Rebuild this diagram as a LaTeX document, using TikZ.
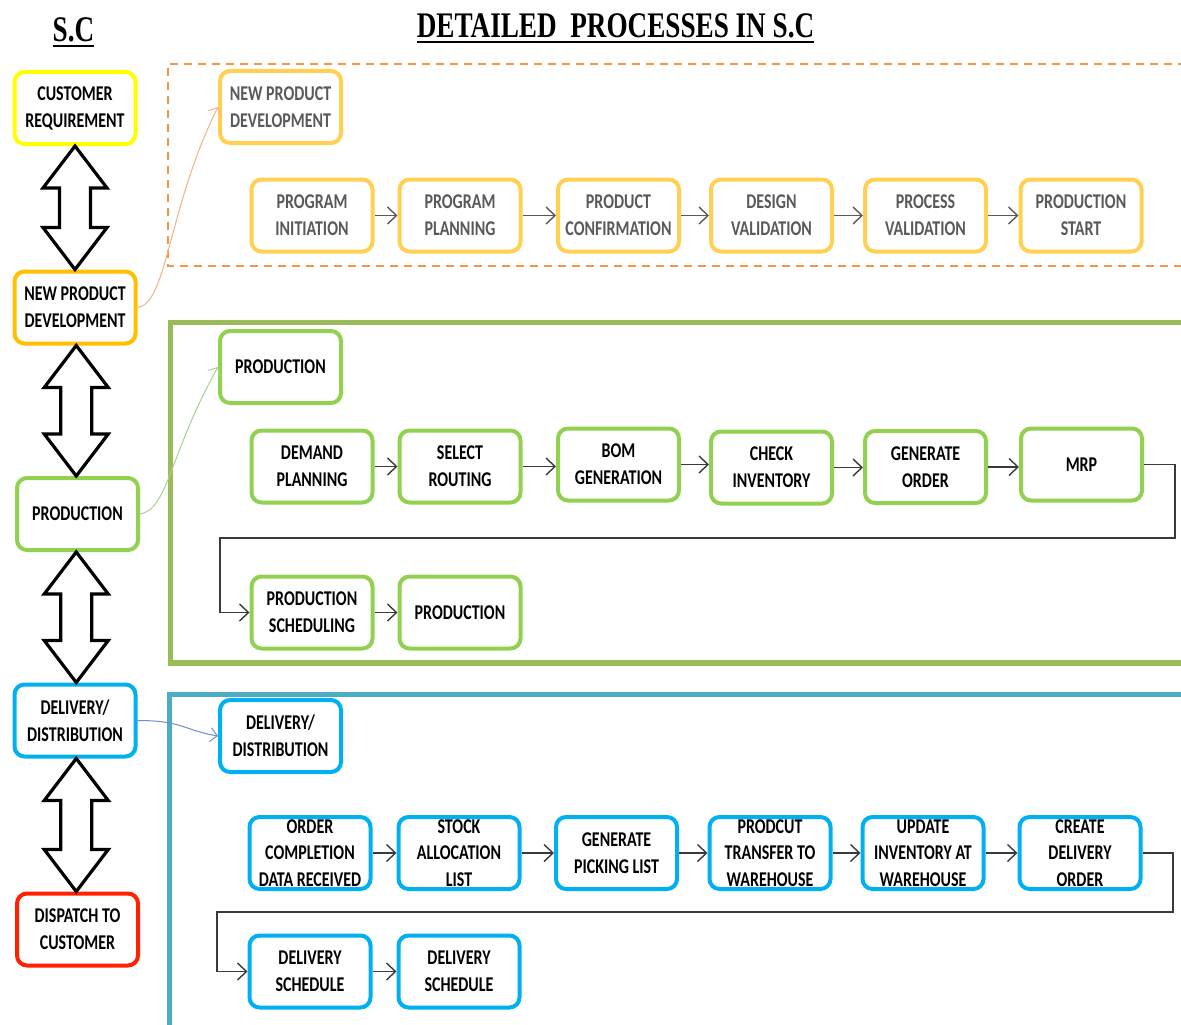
\documentclass[tikz,border=0pt]{standalone}
\usepackage{fontspec}
\newfontfamily\bxf{Carlito}[FakeStretch=0.76]
\newfontfamily\ttlf{Liberation Serif}[FakeStretch=0.755]
\usetikzlibrary{arrows.meta,calc}
\definecolor{cyel}{HTML}{FFFF00}
\definecolor{corg}{HTML}{FFC000}
\definecolor{cnpd}{HTML}{FFD052}
\definecolor{cgrn}{HTML}{92D050}
\definecolor{cblu}{HTML}{00B0F0}
\definecolor{cred}{HTML}{FF2200}
\definecolor{fgrn}{HTML}{9BBB59}
\definecolor{fblu}{HTML}{4BACC6}
\definecolor{fdash}{HTML}{F79646}
\definecolor{tgrey}{HTML}{595959}
\definecolor{agrey}{HTML}{595959}
\definecolor{adark}{HTML}{3A3A3A}
\definecolor{corgc}{HTML}{F4B183}
\definecolor{cgrnc}{HTML}{A9D18E}
\definecolor{cbluc}{HTML}{6B8FCB}
\newcommand\dblarr[2]{%
 \draw[dbl] let \p1=(#1.south), \p2=(#2.north), \n1={0.5*\x1+0.5*\x2} in
 (\n1,\y1) -- (\n1+32pt,\y1-42pt) -- (\n1+15.5pt,\y1-42pt) -- (\n1+15.5pt,\y2+42pt)
 -- (\n1+32pt,\y2+42pt) -- (\n1,\y2) -- (\n1-32pt,\y2+42pt) -- (\n1-15.5pt,\y2+42pt)
 -- (\n1-15.5pt,\y1-42pt) -- (\n1-32pt,\y1-42pt) -- cycle;}
\begin{document}
\begin{tikzpicture}[x=1pt,y=-1pt,
  box/.style={draw, rounded corners=10pt, line width=4pt, fill=white,
    minimum width=121pt, minimum height=72pt, inner sep=0pt, align=center,
    font=\bxf\bfseries\fontsize{21}{27}\selectfont},
  lbl/.style={align=center, inner sep=0pt, font=\bxf\bfseries\fontsize{21}{26.5}\selectfont},
  tbox/.style={box, draw=cnpd, text=tgrey},
  gbox/.style={box, draw=cgrn},
  bbox/.style={box, draw=cblu},
  flow/.style={draw=agrey, line width=1.4pt, -{Straight Barb[length=9pt,width=17pt,line width=1.4pt]}},
  flowd/.style={draw=adark, line width=1.4pt, -{Straight Barb[length=9pt,width=17pt,line width=1.4pt]}},
  wrap/.style={draw=adark, line width=1.4pt, -{Straight Barb[length=9pt,width=17pt,line width=1.4pt]}},
  dbl/.style={draw=black, line width=3.2pt, fill=white, line join=miter},
  curv/.style={line width=1pt, -{Straight Barb[length=7pt,width=14pt,line width=1pt]}},
  ttl/.style={inner sep=0pt, font=\ttlf\bfseries\fontsize{36}{40}\selectfont}
]
\useasboundingbox (0,0) rectangle (1181,1025);
\clip (0,0) rectangle (1181,1025);

% titles
\node[ttl, anchor=base] (sc) at (73.5,42) {S.C};
\draw[line width=2.6pt] ([yshift=-4pt]sc.base west) -- ([yshift=-4pt]sc.base east);
\node[ttl, anchor=base] (title) at (615.5,38) {DETAILED\ \ PROCESSES IN S.C};
\draw[line width=2.6pt] ([yshift=-4pt]title.base west) -- ([yshift=-4pt]title.base east);

% frames
\draw[fdash, line width=2pt, dash pattern=on 8pt off 6pt] (1200,64) -- (168,64) -- (168,266) -- (1200,266);
\draw[fgrn, line width=5.5pt] (1200,322.5) -- (170.5,322.5) -- (170.5,663) -- (1200,663);
\draw[fblu, line width=5.5pt] (1200,694.5) -- (169.5,694.5) -- (169.5,1040);

% left column
\node[box, draw=cyel] (cr) at (75,108) {CUSTOMER\\REQUIREMENT};
\node[box, draw=corg] (npdL) at (75,307.5) {NEW PRODUCT\\DEVELOPMENT};
\node[box, draw=cgrn] (prodL) at (77.5,514) {PRODUCTION};
\node[box, draw=cblu] (delL) at (75,720.5) {DELIVERY/\\DISTRIBUTION};
\node[box, draw=cred] (disp) at (77.5,929.5) {DISPATCH TO\\CUSTOMER};

\dblarr{cr}{npdL}
\dblarr{npdL}{prodL}
\dblarr{prodL}{delL}
\dblarr{delL}{disp}

% top region
\node[tbox] (npdT) at (280.5,107) {NEW PRODUCT\\DEVELOPMENT};
\node[tbox] (pi) at (312,215.5) {PROGRAM\\INITIATION};
\node[tbox] (pp) at (460,215.5) {PROGRAM\\PLANNING};
\node[tbox] (pc) at (618.5,215.5) {PRODUCT\\CONFIRMATION};
\node[tbox] (dv) at (771.5,215.5) {DESIGN\\VALIDATION};
\node[tbox] (pv) at (925.5,215.5) {PROCESS\\VALIDATION};
\node[tbox] (ps) at (1081,215.5) {PRODUCTION\\START};
\draw[flow] (pi) -- (pp);
\draw[flow] (pp) -- (pc);
\draw[flow] (pc) -- (dv);
\draw[flow] (dv) -- (pv);
\draw[flow] (pv) -- (ps);
\draw[curv, corgc] (npdL.east) .. controls +(30,-4) and +(-50,100) .. (npdT.west);

% production region
\node[gbox] (prodT) at (280.5,367) {PRODUCTION};
\node[gbox] (dp) at (312,466.5) {DEMAND\\PLANNING};
\node[gbox] (sr) at (460,466.5) {SELECT\\ROUTING};
\node[gbox] (bom) at (618.5,464.5) {BOM\\GENERATION};
\node[gbox] (ci) at (771.5,467.5) {CHECK\\INVENTORY};
\node[gbox] (go) at (925.5,467) {GENERATE\\ORDER};
\node[gbox] (mrp) at (1081.5,464.5) {MRP};
\node[gbox] (psch) at (312,612.5) {PRODUCTION\\SCHEDULING};
\node[gbox] (prod2) at (460,612.5) {PRODUCTION};
\draw[flowd] (dp) -- (sr);
\draw[flowd] (sr.east) -- (bom.west |- sr.east);
\draw[flowd] (bom.east) -- (ci.west |- bom.east);
\draw[flowd] (ci.east) -- (go.west |- ci.east);
\draw[flowd] (go.east) -- (mrp.west |- go.east);
\coordinate (gR) at (1175,538);
\coordinate (gL) at (220,538);
\draw[wrap] (mrp.east) -| (gR) -- (gL) |- (psch.west);
\draw[flowd] (psch) -- (prod2);
\draw[curv, cgrnc] (prodL.east) .. controls +(28,-4) and +(-48,85) .. (prodT.west);

% delivery region
\node[bbox] (delT) at (280.5,736) {DELIVERY/\\DISTRIBUTION};
\node[bbox, label={[lbl]center:ORDER\\COMPLETION\\DATA RECEIVED}] (oc) at (310,853) {};
\node[bbox, label={[lbl]center:STOCK\\ALLOCATION\\LIST}] (sa) at (459,853) {};
\node[bbox] (gp) at (616.5,853) {GENERATE\\PICKING LIST};
\node[bbox, label={[lbl]center:PRODCUT\\TRANSFER TO\\WAREHOUSE}] (pt) at (770,853) {};
\node[bbox, label={[lbl]center:UPDATE\\INVENTORY AT\\WAREHOUSE}] (ui) at (923,853) {};
\node[bbox, label={[lbl]center:CREATE\\DELIVERY\\ORDER}] (cd) at (1080,853) {};
\node[bbox] (ds1) at (310,971.5) {DELIVERY\\SCHEDULE};
\node[bbox] (ds2) at (459,971.5) {DELIVERY\\SCHEDULE};
\draw[flowd] (oc) -- (sa);
\draw[flowd] (sa) -- (gp);
\draw[flowd] (gp) -- (pt);
\draw[flowd] (pt) -- (ui);
\draw[flowd] (ui) -- (cd);
\coordinate (bR) at (1173,912);
\coordinate (bL) at (217,912);
\draw[wrap] (cd.east) -| (bR) -- (bL) |- (ds1.west);
\draw[flowd] (ds1) -- (ds2);
\draw[curv, cbluc] (delL.east) .. controls +(45,0) and +(-35,-6) .. (delT.west);
\end{tikzpicture}
\end{document}
